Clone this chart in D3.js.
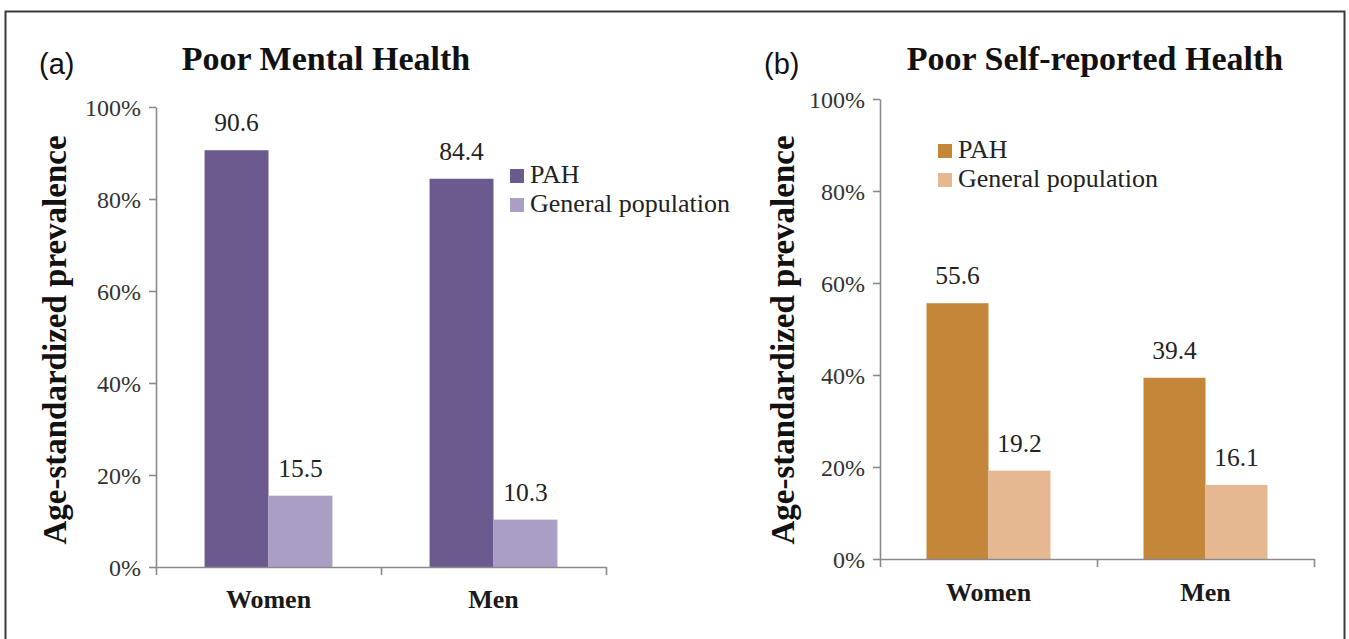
<!DOCTYPE html>
<html>
<head>
<meta charset="utf-8">
<script src="https://cdn.jsdelivr.net/npm/d3@7"></script>
<style>
  html, body { margin: 0; padding: 0; background: #ffffff; }
  svg { display: block; }
</style>
</head>
<body>
<svg id="chart" width="1349" height="639"></svg>
<script>
// ---- Data ----
const categories = ["Women", "Men"];
const seriesNames = ["PAH", "General population"];
const mentalPAH = [90.6, 84.4];
const mentalGeneral = [15.5, 10.3];
const selfPAH = [55.6, 39.4];
const selfGeneral = [19.2, 16.1];
const yTickValues = [0, 20, 40, 60, 80, 100];
const yTickLabels = ["0%", "20%", "40%", "60%", "80%", "100%"];
const panelLetters = ["(a)", "(b)"];
const panelTitles = ["Poor Mental Health", "Poor Self-reported Health"];
const yAxisTitle = "Age-standardized prevalence";

// ---- Styles ----
const serif = "'Liberation Serif', 'DejaVu Serif', serif";
const sans = "'Liberation Sans', Arial, sans-serif";

const svg = d3.select("#chart");

// outer frame
svg.append("rect")
  .attr("x", 5.5).attr("y", 11.5)
  .attr("width", 1339).attr("height", 700)
  .attr("fill", "none").attr("stroke", "#3a3a3a").attr("stroke-width", 2);

function drawPanel(cfg) {
  const g = svg.append("g");
  const y = d3.scaleLinear().domain([0, 100]).range([cfg.y0, cfg.y1]);
  const x = d3.scaleBand().domain(categories).range([cfg.x0, cfg.x1]).padding(0);
  const xSub = d3.scaleBand().domain(seriesNames).range([0, x.bandwidth()])
    .paddingInner(0).paddingOuter(cfg.outerPad);
  const color = d3.scaleOrdinal().domain(seriesNames).range(cfg.colors);

  const rows = categories.map((c, i) => ({
    cat: c,
    vals: [{ s: seriesNames[0], v: cfg.a[i] }, { s: seriesNames[1], v: cfg.b[i] }]
  }));

  // bars
  const grp = g.selectAll("g.cat").data(rows).join("g")
    .attr("transform", d => `translate(${x(d.cat)},0)`);
  grp.selectAll("rect").data(d => d.vals).join("rect")
    .attr("x", d => xSub(d.s))
    .attr("width", xSub.bandwidth())
    .attr("y", d => y(d.v))
    .attr("height", d => y(0) - y(d.v))
    .attr("fill", d => color(d.s));
  grp.selectAll("text.val").data(d => d.vals).join("text")
    .attr("class", "val")
    .attr("x", d => xSub(d.s) + xSub.bandwidth() / 2)
    .attr("y", d => y(d.v) - 19)
    .attr("text-anchor", "middle")
    .style("font-family", serif).attr("font-size", 25.5).attr("fill", "#222")
    .text(d => d3.format(".1f")(d.v));

  // y axis
  const yAxis = d3.axisLeft(y).tickValues(yTickValues)
    .tickFormat((d, i) => yTickLabels[i]).tickSize(7).tickSizeOuter(0).tickPadding(8);
  const ya = g.append("g").attr("transform", `translate(${cfg.x0},0)`).call(yAxis);
  ya.attr("font-family", null);
  ya.select(".domain").attr("stroke", "#8a8a8a").attr("stroke-width", 1.6);
  ya.selectAll(".tick line").attr("stroke", "#8a8a8a").attr("stroke-width", 1.6);
  ya.selectAll(".tick text").style("font-family", serif).attr("font-size", 24)
    .attr("fill", "#333").attr("dy", "0.35em");

  // x axis (category boundaries)
  const xl = d3.scaleLinear().domain([0, categories.length]).range([cfg.x0, cfg.x1]);
  const xAxis = d3.axisBottom(xl).tickValues(d3.range(categories.length + 1))
    .tickFormat("").tickSize(8).tickSizeOuter(0);
  const xa = g.append("g").attr("transform", `translate(0,${cfg.y0})`).call(xAxis);
  xa.select(".domain").attr("stroke", "#8a8a8a").attr("stroke-width", 1.6);
  xa.selectAll(".tick line").attr("stroke", "#8a8a8a").attr("stroke-width", 1.6);

  // category labels
  g.selectAll("text.cat").data(categories).join("text")
    .attr("class", "cat")
    .attr("x", d => x(d) + x.bandwidth() / 2)
    .attr("y", cfg.y0 + cfg.catDy)
    .attr("text-anchor", "middle")
    .style("font-family", serif).attr("font-weight", "bold").attr("font-size", 26)
    .attr("fill", "#1a1a1a")
    .text(d => d);

  // y axis title
  g.append("text")
    .attr("transform", `translate(${cfg.yTitleX},${cfg.yTitleY}) rotate(-90)`)
    .attr("text-anchor", "middle")
    .style("font-family", serif).attr("font-weight", "bold").attr("font-size", 33)
    .attr("fill", "#111")
    .text(yAxisTitle);

  // panel letter
  g.append("text")
    .attr("x", cfg.letterX).attr("y", 74)
    .style("font-family", sans).attr("font-size", 29).attr("fill", "#111")
    .text(cfg.letter);

  // title
  g.append("text")
    .attr("x", cfg.titleX).attr("y", 70)
    .attr("text-anchor", "middle")
    .style("font-family", serif).attr("font-weight", "bold").attr("font-size", 34)
    .attr("fill", "#111")
    .text(cfg.title);

  // legend
  const lg = g.append("g").attr("transform", `translate(${cfg.legX},${cfg.legY})`);
  const items = lg.selectAll("g").data(seriesNames).join("g")
    .attr("transform", (d, i) => `translate(0,${i * 29})`);
  items.append("rect").attr("x", 0).attr("y", -14).attr("width", 14).attr("height", 14)
    .attr("fill", d => color(d));
  items.append("text").attr("x", 20).attr("y", 0)
    .style("font-family", serif).attr("font-size", 26).attr("fill", "#222")
    .text(d => d);
}

drawPanel({
  a: mentalPAH, b: mentalGeneral,
  colors: ["#6b5a8e", "#aa9ec4"],
  x0: 156, x1: 606, y0: 567, y1: 107, outerPad: 0.76,
  catDy: 41, yTitleX: 66, yTitleY: 340,
  letter: panelLetters[0], letterX: 39,
  title: panelTitles[0], titleX: 326,
  legX: 510, legY: 183
});

drawPanel({
  a: selfPAH, b: selfGeneral,
  colors: ["#c4873a", "#e6b892"],
  x0: 880, x1: 1314, y0: 559, y1: 99, outerPad: 0.75,
  catDy: 42, yTitleX: 794, yTitleY: 340,
  letter: panelLetters[1], letterX: 764,
  title: panelTitles[1], titleX: 1095,
  legX: 938, legY: 158
});
</script>
</body>
</html>
